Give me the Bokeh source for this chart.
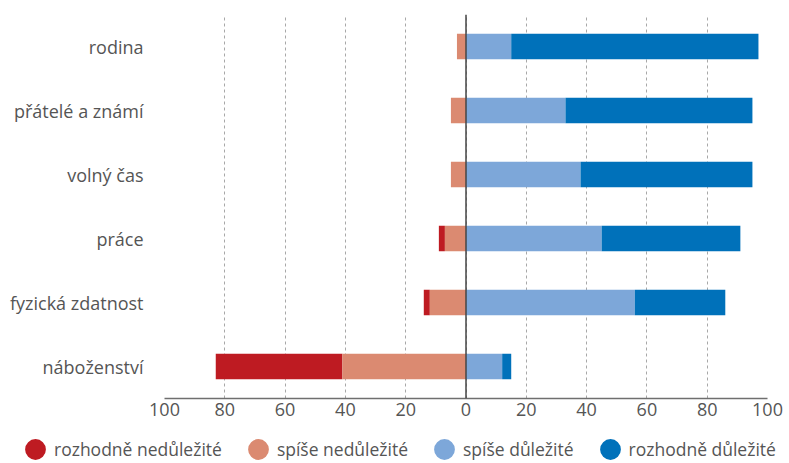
from bokeh.plotting import figure
from bokeh.models import ColumnDataSource, FactorRange, Range1d, Span, Legend, LegendItem, FixedTicker, CustomJSTickFormatter
from bokeh.embed import file_html
from bokeh.resources import INLINE

categories = ["rodina", "přátelé a známí", "volný čas", "práce", "fyzická zdatnost", "náboženství"]
rozhodne_nedulezite = [0, 0, 0, 2, 2, 42]
spise_nedulezite = [3, 5, 5, 7, 12, 41]
spise_dulezite = [15, 33, 38, 45, 56, 12]
rozhodne_dulezite = [82, 62, 57, 46, 30, 3]

series_names = ["rozhodně nedůležité", "spíše nedůležité", "spíše důležité", "rozhodně důležité"]
colors = ["#BE1B22", "#DB8A71", "#7DA7D9", "#0071BA"]
ticks = [-100, -80, -60, -40, -20, 0, 20, 40, 60, 80, 100]

FONT = "Open Sans"
TXT = "#555555"

p = figure(width=785, height=424, output_backend="svg", toolbar_location=None,
           y_range=FactorRange(*reversed(categories), range_padding=0),
           x_range=Range1d(-100, 100),
           min_border_left=164, min_border_right=18, min_border_top=14, min_border_bottom=26)
p.outline_line_color = None

sn = spise_nedulezite
rn = rozhodne_nedulezite
sd = spise_dulezite
rd = rozhodne_dulezite
segs = [
    ([-(a + b) for a, b in zip(sn, rn)], [-a for a in sn]),
    ([-a for a in sn], [0] * len(sn)),
    ([0] * len(sd), sd[:]),
    (sd[:], [a + b for a, b in zip(sd, rd)]),
]
for (left, right), col in zip(segs, colors):
    src = ColumnDataSource(dict(y=categories, left=left, right=right))
    p.hbar(y="y", left="left", right="right", height=0.4, source=src,
           fill_color=col, line_color=None)

p.add_layout(Span(location=0, dimension="height", line_color="#444444", line_width=1.5))

p.xaxis.ticker = FixedTicker(ticks=ticks)
p.xaxis.formatter = CustomJSTickFormatter(code="return Math.abs(tick).toString();")
p.xaxis.axis_line_color = "#6f6f6f"
p.xaxis.axis_line_width = 1.5
p.xaxis.major_tick_line_color = None
p.xaxis.minor_tick_line_color = None
p.xaxis.major_tick_in = 0
p.xaxis.major_tick_out = 0
p.xaxis.major_label_standoff = 4
p.xaxis.major_label_text_font = FONT
p.xaxis.major_label_text_font_size = "18px"
p.xaxis.major_label_text_color = TXT

p.yaxis.axis_line_color = None
p.yaxis.major_tick_line_color = None
p.yaxis.minor_tick_line_color = None
p.yaxis.major_tick_in = 0
p.yaxis.major_tick_out = 0
p.yaxis.major_label_standoff = 21
p.yaxis.major_label_text_font = FONT
p.yaxis.major_label_text_font_size = "18px"
p.yaxis.major_label_text_color = TXT
p.yaxis.major_label_text_baseline = "alphabetic"

p.ygrid.grid_line_color = None
p.xgrid.ticker = FixedTicker(ticks=ticks)
p.xgrid.grid_line_color = "#a8a8a8"
p.xgrid.grid_line_dash = "3 3"
p.xgrid.grid_line_width = 1

# legend in its own figure (separate root, so its frame is not aligned to the chart)
lf = figure(width=787, height=38, output_backend="svg", toolbar_location=None,
            x_range=Range1d(0, 1), y_range=Range1d(0, 1),
            min_border_left=0, min_border_right=0, min_border_top=0, min_border_bottom=0)
lf.outline_line_color = None
lf.axis.visible = False
lf.grid.grid_line_color = None

items = []
for name, col in zip(series_names, colors):
    src = ColumnDataSource(dict(x=[float("nan")], y=[float("nan")]))
    r = lf.ellipse(x="x", y="y", width=22, height=22, width_units="screen", height_units="screen",
                   source=src, fill_color=col, line_color=None)
    items.append(LegendItem(label=name, renderers=[r]))

legend = Legend(items=items, orientation="horizontal", location=(22, 0),
                glyph_width=26, glyph_height=26, label_standoff=6, spacing=23,
                padding=0, margin=0, border_line_color=None, background_fill_alpha=0,
                label_text_font=FONT, label_text_font_size="17.5px", label_text_color=TXT)
lf.add_layout(legend, "center")

open("out.html", "w").write(file_html([p, lf], INLINE))
